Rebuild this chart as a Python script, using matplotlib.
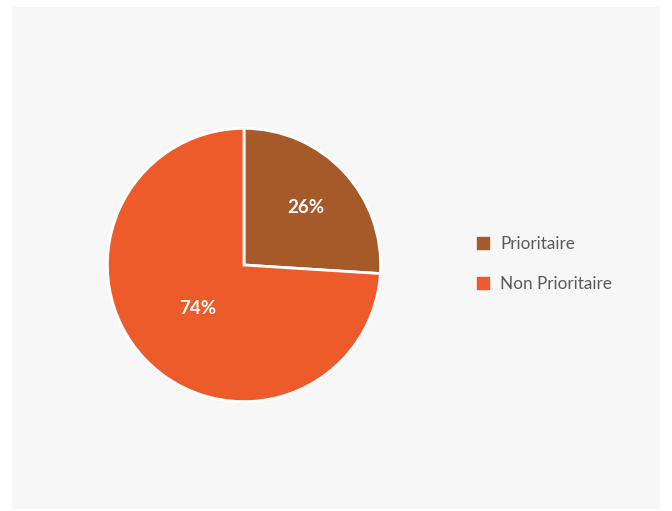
import matplotlib.pyplot as plt
from matplotlib.lines import Line2D
from matplotlib.patches import Rectangle

plt.rcParams['font.family'] = ['Lato', 'DejaVu Sans']

# slice data
categories = ['Prioritaire', 'Non Prioritaire']
shares = [26, 74]
colors = ['#a65a2a', '#ec5b29']
label_dist = [0.62, 0.46]

W, H = 672, 511
fig = plt.figure(figsize=(W / 100, H / 100), dpi=100)
fig.patch.set_facecolor('white')

# light grey card behind the chart
fig.patches.append(Rectangle((12 / W, 2 / H), 648 / W, 502 / H, transform=fig.transFigure,
                             facecolor='#f7f7f7', edgecolor='none', zorder=-5))

cx, cy, r = 244, 265, 138
ax = fig.add_axes([(cx - r) / W, (H - cy - r) / H, 2 * r / W, 2 * r / H])
ax.set_facecolor('none')
ax.set_zorder(2)
wedges, texts, autotexts = ax.pie(shares, colors=colors, startangle=90, counterclock=False,
                                  autopct='%d%%', pctdistance=0.6,
                                  wedgeprops=dict(edgecolor='white', linewidth=2),
                                  textprops=dict(color='white', fontsize=13.5, fontweight='bold'))
ax.set_xlim(-1.01, 1.01)
ax.set_ylim(-1.01, 1.01)
ax.set_aspect('equal')

# move percentage labels to per-slice distances
for w, t, d in zip(wedges, autotexts, label_dist):
    x, y = t.get_position()
    n = (x ** 2 + y ** 2) ** 0.5
    t.set_position((x / n * d, y / n * d))

handles = [Line2D([], [], marker='s', linestyle='none', markersize=8, markerfacecolor=c,
                  markeredgecolor=c) for c in colors]
leg = fig.legend(handles, categories, loc='center left', bbox_to_anchor=(459 / W, (H - 264) / H),
                 frameon=False, fontsize=12.3, labelspacing=1.45, handletextpad=0.5,
                 handlelength=1.0)
leg.set_zorder(3)
for t in leg.get_texts():
    t.set_color('#5a5a5a')

fig.savefig('out.png', dpi=100, facecolor='white')
